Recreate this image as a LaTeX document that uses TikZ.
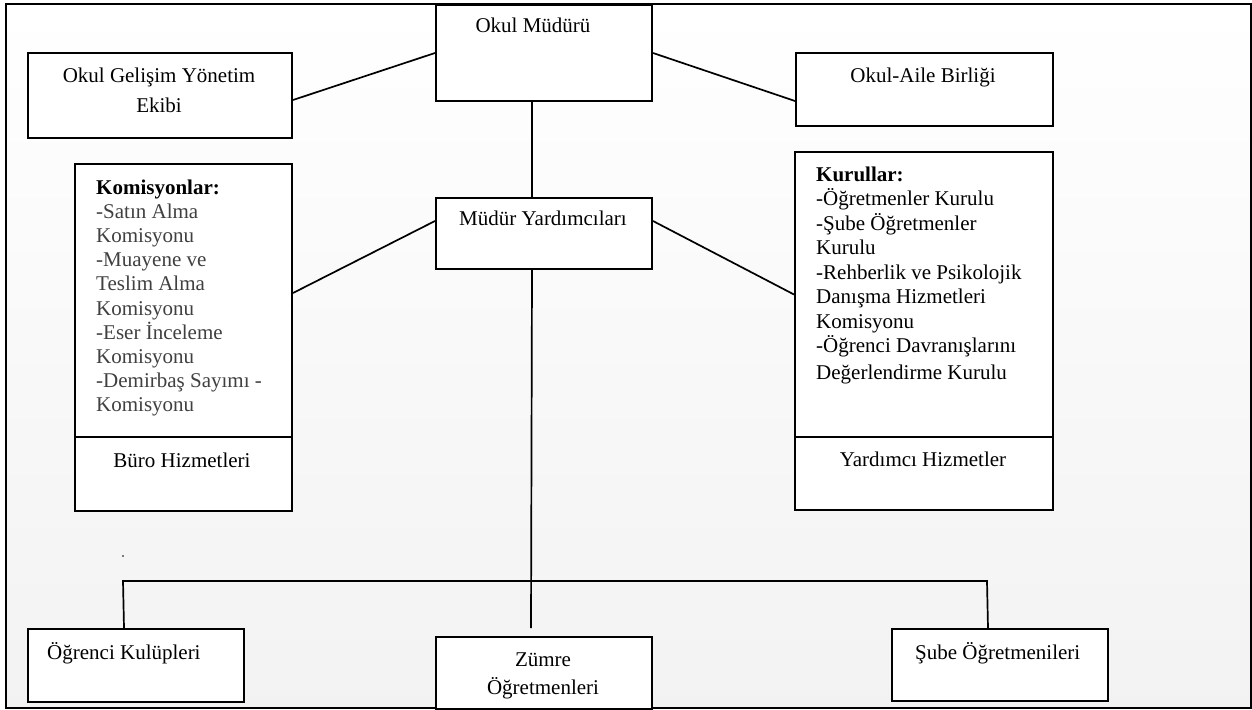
\documentclass[tikz,border=0pt]{standalone}
\usepackage{fontspec}
\setmainfont{Liberation Serif}
\begin{document}
\begin{tikzpicture}[x=1bp,y=-1bp,
  box/.style={draw=black, line width=2bp, fill=white, anchor=north west, inner sep=0pt},
  conn/.style={draw=black, line width=1.7bp},
  txt/.style={font=\fontsize{21bp}{24.4bp}\selectfont, inner sep=0pt, anchor=base},
  txtl/.style={font=\fontsize{21bp}{24.4bp}\selectfont, inner sep=0pt, anchor=base west},
  kom/.style={font=\fontsize{21bp}{24.2bp}\selectfont, inner sep=0pt, anchor=north west, align=left, text=black!75},
  kur/.style={font=\fontsize{21bp}{24.5bp}\selectfont, inner sep=0pt, anchor=north west, align=left},
]
\useasboundingbox (0,0) rectangle (1252,710);
\shade[top color=white, bottom color=black!5] (6,4) rectangle (1251,708);
\draw[line width=2.2bp] (6,4) rectangle (1251,708);

% boxes
\node[box, minimum width=216bp, minimum height=96bp] (om) at (435,4) {};
\node[box, minimum width=264bp, minimum height=85bp] (og) at (27,52) {};
\node[box, minimum width=257bp, minimum height=73bp] (oab) at (795,52) {};
\node[box, minimum width=216bp, minimum height=71bp] (my) at (435,197) {};
\node[box, minimum width=217bp, minimum height=273bp] (kom) at (74,163) {};
\node[box, minimum width=217bp, minimum height=74bp] (buro) at (74,436) {};
\node[box, minimum width=258bp, minimum height=285bp] (kur) at (794,151) {};
\node[box, minimum width=258bp, minimum height=73bp] (yard) at (794,436) {};
\node[box, minimum width=216bp, minimum height=72bp] (zum) at (435,636) {};
\node[box, minimum width=216bp, minimum height=73bp] (ogr) at (27,628) {};
\node[box, minimum width=216bp, minimum height=72bp] (sube) at (891,628) {};

% connectors
\draw[conn] ([yshift=-4.5bp]og.east) -- (om.west);
\draw[conn] (om.east) -- ([yshift=-11.5bp]oab.west);
\draw[conn] ([xshift=-12bp]om.south) -- ([xshift=-12bp]my.north);
\draw[conn] ([yshift=12.5bp]my.west) -- ([yshift=7.5bp]kom.east);
\draw[conn] ([yshift=12.5bp]my.east) -- (kur.west);
\coordinate (zt) at (531,628);
\draw[conn] ([xshift=-12bp]my.south) -- (zt);
\coordinate (hl) at (123,581);
\coordinate (hr) at (987,581);
\draw[conn] ([xshift=-12bp]ogr.north) -- (hl) -- (hr) -- ([xshift=-12bp]sube.north);
\fill (123,556) circle (0.8bp);

% texts
\node[txt] (omt) at (533,33) {Okul Müdürü};
\node[txt] (ogt1) at (159,83) {Okul Gelişim Yönetim};
\node[txt] (ogt2) at (159,113) {Ekibi};
\node[txt] (oabt) at (923,83) {Okul-Aile Birliği};
\node[txt] (myt) at (543,226) {Müdür Yardımcıları};
\node[kom] (komt) at (96,177) {\strut{\color{black}\textbf{Komisyonlar:}}\\
-Satın Alma\\
Komisyonu\\
-Muayene ve\\
Teslim Alma\\
Komisyonu\\
-Eser İnceleme\\
Komisyonu\\
-Demirbaş Sayımı -\\
Komisyonu};
\node[kur] (kurt) at (816,164) {\strut\textbf{Kurullar:}\\
-Öğretmenler Kurulu\\
-Şube Öğretmenler\\
Kurulu\\
-Rehberlik ve Psikolojik\\
Danışma Hizmetleri\\
Komisyonu\\
-Öğrenci Davranışlarını\\[2.5bp]
Değerlendirme Kurulu};
\node[txt] (burot) at (182,467) {Büro Hizmetleri};
\node[txt] (yardt) at (923,466) {Yardımcı Hizmetler};
\node[txt] (zumt1) at (543,666) {Zümre};
\node[txt] (zumt2) at (543,694) {Öğretmenleri};
\node[txtl] (ogrt) at (47,659) {Öğrenci Kulüpleri};
\node[txtl] (subet) at (915,659) {Şube Öğretmenileri};
\end{tikzpicture}
\end{document}
